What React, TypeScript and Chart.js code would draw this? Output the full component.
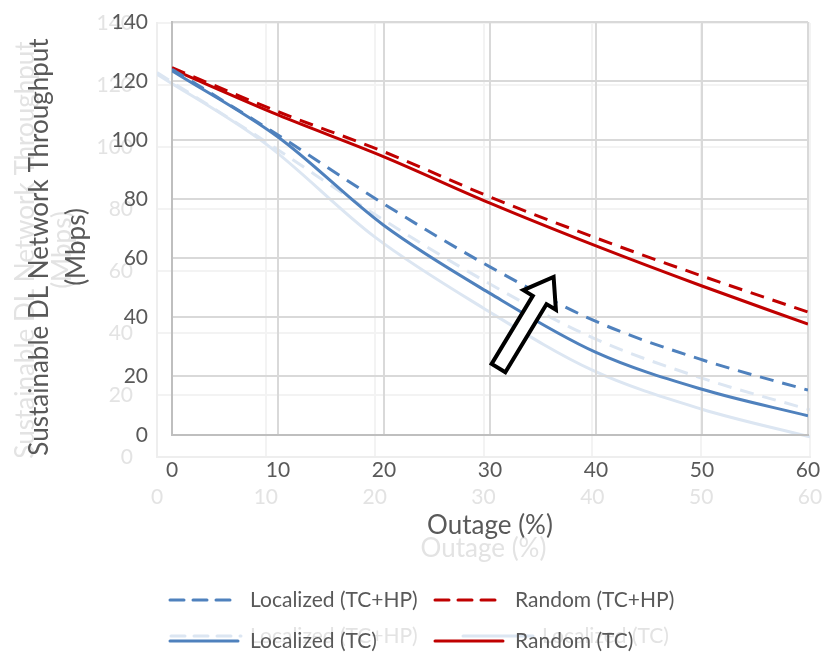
import React, { useEffect, useRef } from "react";
import { Chart, registerables } from "chart.js";

Chart.register(...registerables);

// ---------- data ----------
const outage = [0, 10, 20, 30, 40, 50, 60];
const localizedTCHP = [124, 101.7, 78.3, 57, 38.5, 25.5, 15.2];
const randomTCHP = [124.5, 109.6, 96, 80.7, 66.8, 53.9, 41.7];
const localizedTC = [123.5, 101, 71, 48, 28, 15.5, 6.5];
const randomTC = [124, 108.5, 94.3, 78.6, 64.1, 50.5, 37.6];

const seriesLabels = ["Localized (TC+HP)", "Random (TC+HP)", "Localized (TC)", "Random (TC)"];
const xTitle = "Outage (%)";
const yTitle = ["Sustainable DL Network Throughput", "(Mbps)"];
const xRange = [0, 60, 10];
const yRange = [0, 140, 20];
// annotation arrow (data coordinates): tail -> tip
const arrowTail = [30.8, 22.7];
const arrowTip = [36.0, 53.6];

// ---------- styles ----------
const FONT = "Lato, 'Open Sans', sans-serif";
const BLUE = "#4f81bd";
const RED = "#c00000";
const GHOST_BLUE = "#dce6f2";
const TEXT = "#595959";
const GHOST_TEXT = "#e3e3e3";
const DASH = [14, 9];

const pts = (vals: number[]) => outage.map((x, i) => ({ x, y: vals[i] }));

const legendPlugin = {
  id: "gridLegend",
  afterDraw(chart: any, _args: any, opts: any) {
    const { ctx } = chart;
    const ds = chart.data.datasets;
    ctx.save();
    ctx.font = `${opts.fontSize}px ${FONT}`;
    ctx.textBaseline = "middle";
    ctx.textAlign = "left";
    ds.forEach((d: any, i: number) => {
      const col = i % opts.cols.length;
      const row = Math.floor(i / opts.cols.length);
      const x = opts.cols[col];
      const y = opts.rows[row];
      ctx.strokeStyle = d.borderColor;
      ctx.lineWidth = d.borderWidth;
      ctx.lineCap = "round";
      ctx.setLineDash(d.borderDash || []);
      ctx.beginPath();
      ctx.moveTo(x, y);
      ctx.lineTo(x + opts.symbol, y);
      ctx.stroke();
      ctx.setLineDash([]);
      ctx.fillStyle = opts.color;
      ctx.fillText(d.label, x + opts.textOffset, y);
    });
    ctx.restore();
  },
};

const yTitlePlugin = {
  id: "yTitle",
  afterDraw(chart: any, _args: any, opts: any) {
    const { ctx } = chart;
    ctx.save();
    ctx.font = `${opts.fontSize}px ${FONT}`;
    ctx.fillStyle = opts.color;
    ctx.textAlign = "center";
    ctx.textBaseline = "middle";
    opts.lines.forEach((t: string, i: number) => {
      ctx.save();
      ctx.translate(opts.xs[i], opts.cy);
      ctx.rotate(-Math.PI / 2);
      ctx.fillText(t, 0, 0);
      ctx.restore();
    });
    ctx.restore();
  },
};

const arrowPlugin = {
  id: "arrow",
  afterDatasetsDraw(chart: any, _args: any, opts: any) {
    if (!opts || !opts.tail) return;
    const { ctx, scales } = chart;
    const tx = scales.x.getPixelForValue(opts.tail[0]);
    const ty = scales.y.getPixelForValue(opts.tail[1]);
    const px = scales.x.getPixelForValue(opts.tip[0]);
    const py = scales.y.getPixelForValue(opts.tip[1]);
    const dx = px - tx, dy = py - ty;
    const len = Math.hypot(dx, dy);
    const ux = dx / len, uy = dy / len;
    const nx = -uy, ny = ux;
    const w = 8, H = 19, hl = 27;
    const bx = px - ux * hl, by = py - uy * hl;
    ctx.save();
    ctx.beginPath();
    ctx.moveTo(tx + nx * w, ty + ny * w);
    ctx.lineTo(bx + nx * w, by + ny * w);
    ctx.lineTo(bx + nx * H, by + ny * H);
    ctx.lineTo(px, py);
    ctx.lineTo(bx - nx * H, by - ny * H);
    ctx.lineTo(bx - nx * w, by - ny * w);
    ctx.lineTo(tx - nx * w, ty - ny * w);
    ctx.closePath();
    ctx.fillStyle = "#ffffff";
    ctx.fill();
    ctx.lineWidth = 4;
    ctx.lineJoin = "miter";
    ctx.strokeStyle = "#000000";
    ctx.stroke();
    ctx.restore();
  },
};

function makeConfig(ghost: boolean): any {
  const textColor = ghost ? GHOST_TEXT : TEXT;
  const gridColor = ghost ? "#f3f3f3" : "#d9d9d9";
  const lineDs = (label: string, vals: number[], color: string, dashed: boolean) => ({
    label,
    data: pts(vals),
    borderColor: color,
    backgroundColor: color,
    borderWidth: 3,
    borderDash: dashed ? DASH : [],
    pointRadius: 0,
    fill: false,
    tension: 0.4,
    cubicInterpolationMode: "monotone",
  });
  const datasets = ghost
    ? [
        lineDs(seriesLabels[0], localizedTCHP, GHOST_BLUE, true),
        lineDs(seriesLabels[2], localizedTC, GHOST_BLUE, false),
      ]
    : [
        lineDs(seriesLabels[0], localizedTCHP, BLUE, true),
        lineDs(seriesLabels[1], randomTCHP, RED, true),
        lineDs(seriesLabels[2], localizedTC, BLUE, false),
        lineDs(seriesLabels[3], randomTC, RED, false),
      ];
  const tickFont = { family: FONT, size: 21 };
  return {
    type: "line",
    data: { datasets },
    options: {
      animation: false,
      responsive: false,
      maintainAspectRatio: false,
      events: [],
      layout: {
        padding: ghost
          ? { top: 23, right: 13, left: 0, bottom: 0 }
          : { top: 22, right: 15, left: 0, bottom: 0 },
      },
      plugins: {
        legend: { display: false },
        tooltip: { enabled: false },
        gridLegend: ghost
          ? { cols: [171, 463], rows: [636], symbol: 70, textOffset: 79, fontSize: 21, color: textColor }
          : { cols: [170, 435], rows: [600, 641], symbol: 68, textOffset: 80, fontSize: 21, color: textColor },
        yTitle: ghost
          ? { lines: yTitle, xs: [26, 63], cy: 250, fontSize: 26, color: textColor }
          : { lines: yTitle, xs: [40, 77], cy: 247, fontSize: 26, color: textColor },
        arrow: ghost ? {} : { tail: arrowTail, tip: arrowTip },
      },
      scales: {
        x: {
          type: "linear",
          min: xRange[0],
          max: xRange[1],
          ticks: { stepSize: xRange[2], padding: ghost ? 28 : 23, color: textColor, font: tickFont },
          grid: { color: gridColor, lineWidth: 2, drawTicks: false },
          border: { color: ghost ? "#eeeeee" : "#bfbfbf", width: 2 },
          title: {
            display: true,
            text: xTitle,
            color: textColor,
            font: { family: FONT, size: 26 },
            padding: { top: 0, bottom: ghost ? 91 : 114 },
          },
          afterFit: (s: any) => {
            s.height = ghost ? 655 - 457 : 655 - 435;
            s.paddingLeft = 0;
            s.paddingRight = 0;
          },
        },
        y: {
          type: "linear",
          min: yRange[0],
          max: yRange[1],
          ticks: { stepSize: yRange[2], padding: 24, color: textColor, font: tickFont },
          grid: { color: gridColor, lineWidth: 2, drawTicks: false },
          border: { color: ghost ? "#eeeeee" : "#bfbfbf", width: 2 },
          afterFit: (s: any) => {
            s.width = ghost ? 157 : 172;
            s.paddingTop = 0;
            s.paddingBottom = 0;
          },
        },
      },
    },
    plugins: [legendPlugin, yTitlePlugin, arrowPlugin],
  };
}

export default function App() {
  const ghostRef = useRef<HTMLCanvasElement | null>(null);
  const mainRef = useRef<HTMLCanvasElement | null>(null);
  useEffect(() => {
    const g = new Chart(ghostRef.current as HTMLCanvasElement, makeConfig(true));
    const m = new Chart(mainRef.current as HTMLCanvasElement, makeConfig(false));
    return () => {
      g.destroy();
      m.destroy();
    };
  }, []);
  const cs: React.CSSProperties = { position: "absolute", left: 0, top: 0, width: 823, height: 655 };
  return (
    <div style={{ position: "fixed", left: 0, top: 0, width: 823, height: 655, background: "#fff" }}>
      <canvas ref={ghostRef} width={823} height={655} style={cs} />
      <canvas ref={mainRef} width={823} height={655} style={cs} />
    </div>
  );
}
